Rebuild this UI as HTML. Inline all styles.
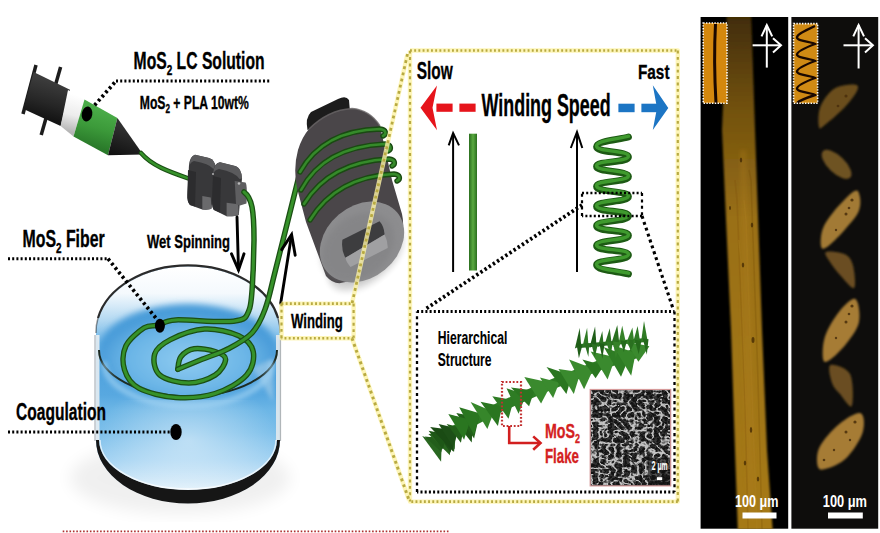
<!DOCTYPE html>
<html><head><meta charset="utf-8">
<style>
html,body{margin:0;padding:0;background:#fff;width:880px;height:533px;overflow:hidden}
svg{position:absolute;left:0;top:0;display:block}
text{font-family:"Liberation Sans",sans-serif;font-weight:bold}
</style></head>
<body>
<svg width="880" height="533" viewBox="0 0 880 533">
<defs>
  <linearGradient id="water" x1="0" y1="0" x2="0" y2="1">
    <stop offset="0" stop-color="#4fa3dc"/>
    <stop offset="0.5" stop-color="#6db8e6"/>
    <stop offset="0.85" stop-color="#bfe0f5"/>
    <stop offset="1" stop-color="#e4f2fb"/>
  </linearGradient>
  <radialGradient id="surf" cx="0.5" cy="0.75" r="0.7">
    <stop offset="0" stop-color="#a6d5f3"/>
    <stop offset="0.6" stop-color="#6cb7e7"/>
    <stop offset="1" stop-color="#4c9fd9"/>
  </radialGradient>
  <linearGradient id="inner" x1="0" y1="0" x2="0" y2="1">
    <stop offset="0" stop-color="#ffffff"/>
    <stop offset="1" stop-color="#d6ebf8"/>
  </linearGradient>
  <linearGradient id="greenbar" x1="0" y1="0" x2="1" y2="0">
    <stop offset="0" stop-color="#2a6e1e"/>
    <stop offset="0.5" stop-color="#5aaa40"/>
    <stop offset="1" stop-color="#2a6e1e"/>
  </linearGradient>
  <linearGradient id="synbody" x1="0" y1="0" x2="0" y2="1">
    <stop offset="0" stop-color="#3a3a3a"/>
    <stop offset="0.5" stop-color="#222"/>
    <stop offset="1" stop-color="#111"/>
  </linearGradient>
  <filter id="blur05"><feGaussianBlur stdDeviation="0.5"/></filter>
  <filter id="blur1"><feGaussianBlur stdDeviation="1"/></filter>
  <filter id="blur2"><feGaussianBlur stdDeviation="2"/></filter>
  <filter id="blur3"><feGaussianBlur stdDeviation="3"/></filter>
  <filter id="blur4"><feGaussianBlur stdDeviation="4"/></filter>
  <filter id="blur8"><feGaussianBlur stdDeviation="8"/></filter>
  <filter id="semf" x="0" y="0" width="1" height="1">
    <feTurbulence type="turbulence" baseFrequency="0.13 0.16" numOctaves="2" seed="3" result="t"/>
    <feColorMatrix in="t" type="matrix" values="0 0 0 0 1  0 0 0 0 1  0 0 0 0 1  -5.5 0 0 0 1.45" result="a"/>
    <feComposite in="a" in2="SourceGraphic" operator="in"/>
  </filter>
  <filter id="semf2" x="0" y="0" width="1" height="1">
    <feTurbulence type="fractalNoise" baseFrequency="0.4" numOctaves="2" seed="8" result="t"/>
    <feColorMatrix in="t" type="matrix" values="0 0 0 0 1  0 0 0 0 1  0 0 0 0 1  4 0 0 0 -1.6" result="a"/>
    <feComposite in="a" in2="SourceGraphic" operator="in"/>
  </filter>
</defs>
<g id="beaker">
<linearGradient id="wfront" x1="0" y1="350" x2="0" y2="500" gradientUnits="userSpaceOnUse">
  <stop offset="0" stop-color="#4a9edb"/>
  <stop offset="0.3" stop-color="#58a8e0"/>
  <stop offset="0.4" stop-color="#6cb6e6"/>
  <stop offset="0.55" stop-color="#7cbfea"/>
  <stop offset="0.73" stop-color="#a2d2f2"/>
  <stop offset="0.88" stop-color="#d0e8f8"/>
  <stop offset="0.97" stop-color="#f0f8fd"/>
</linearGradient>
<linearGradient id="wback" x1="0" y1="267" x2="0" y2="399" gradientUnits="userSpaceOnUse">
  <stop offset="0" stop-color="#ffffff"/>
  <stop offset="0.2" stop-color="#f4f9fd"/>
  <stop offset="0.4" stop-color="#b4d9f2"/>
  <stop offset="0.58" stop-color="#6cb5e6"/>
  <stop offset="0.8" stop-color="#58a9e0"/>
  <stop offset="1" stop-color="#76bfea"/>
</linearGradient>
<ellipse cx="180" cy="478" rx="110" ry="36" fill="#000" opacity="0.06" filter="url(#blur8)"/>
<path d="M96,333 L96,440 A92,63.5 0 0 0 280,440 L280,333 A92,66.5 0 0 0 96,333 Z" fill="url(#wfront)"/>
<path d="M96,333 A92,66.5 0 0 1 280,333 L277,350 A89,46 0 0 1 99,350 Z" fill="url(#wback)"/>

<radialGradient id="wsurf2" cx="188" cy="360" r="89" gradientUnits="userSpaceOnUse" gradientTransform="translate(188,360) scale(1,0.52) translate(-188,-360)">
  <stop offset="0" stop-color="#8fcbf0"/>
  <stop offset="0.7" stop-color="#69b4e6"/>
  <stop offset="1" stop-color="#4a9cd9"/>
</radialGradient>
<clipPath id="inrim"><path d="M96,333 A92,66.5 0 0 1 280,333 L277,350 A89,46 0 0 1 99,350 Z"/></clipPath>
<ellipse cx="188" cy="352" rx="90" ry="48" fill="url(#wsurf2)" filter="url(#blur3)" clip-path="url(#inrim)"/>
<radialGradient id="haze" cx="188" cy="440" r="90" gradientUnits="userSpaceOnUse" gradientTransform="translate(188,440) scale(1,0.7) translate(-188,-440)">
  <stop offset="0" stop-color="#ffffff" stop-opacity="0.45"/>
  <stop offset="0.6" stop-color="#ffffff" stop-opacity="0.2"/>
  <stop offset="1" stop-color="#ffffff" stop-opacity="0"/>
</radialGradient>
<path d="M96,400 L96,440 A92,63.5 0 0 0 280,440 L280,400 Z" fill="url(#haze)"/>
<path d="M253,368 L273,358 L273,402 Z" fill="#cfe3ef" opacity="0.4" filter="url(#blur2)"/>
<path d="M97.5,335 L97.5,441" stroke="#e8eef2" stroke-width="4" opacity="0.9"/>
<path d="M95,335 L95,441" stroke="#9aa4ab" stroke-width="1.2" opacity="0.8"/>
<path d="M278,335 L278,441" stroke="#e3eaee" stroke-width="4" opacity="0.9"/>
<path d="M280.5,335 L280.5,441" stroke="#7c868c" stroke-width="1.2" opacity="0.6"/>
<path d="M99,350 A89,46 0 0 0 277,350" fill="none" stroke="#1c2a22" stroke-width="2"/>
<path d="M104,362 A84,44 0 0 0 272,362" fill="none" stroke="#a6d6f4" stroke-width="6" opacity="0.6" filter="url(#blur2)"/>
<path d="M96,440 A92,63.5 0 0 0 280,440 L277,440 A89,50 0 0 1 99,440 Z" fill="#161616"/>
<path d="M100,440 A88,49 0 0 0 276,440" fill="none" stroke="#ffffff" stroke-width="1.5" opacity="0.7"/>
<path d="M98,318 A92,66.5 0 0 1 278,318" fill="none" stroke="#2b2b2b" stroke-width="2.2"/>
<path d="M96,333 A92,66.5 0 0 1 98,318" fill="none" stroke="#2b2b2b" stroke-width="1.5" opacity="0.5"/>
<path d="M278,318 A92,66.5 0 0 1 280,333" fill="none" stroke="#2b2b2b" stroke-width="1.5" opacity="0.6"/>
</g>
<g id="syringe">
<linearGradient id="sgb" x1="52" y1="81" x2="42" y2="117.5" gradientUnits="userSpaceOnUse"><stop offset="0" stop-color="#3c3c3c"/><stop offset="0.6" stop-color="#262626"/><stop offset="1" stop-color="#141414"/></linearGradient>
<linearGradient id="sgw" x1="76" y1="95" x2="67" y2="131" gradientUnits="userSpaceOnUse"><stop offset="0" stop-color="#ffffff"/><stop offset="0.55" stop-color="#ececec"/><stop offset="1" stop-color="#b5b5b5"/></linearGradient>
<linearGradient id="sgg" x1="101" y1="109" x2="91" y2="146" gradientUnits="userSpaceOnUse"><stop offset="0" stop-color="#4aac48"/><stop offset="0.5" stop-color="#3c9a3a"/><stop offset="1" stop-color="#2a7a2a"/></linearGradient>
<linearGradient id="sgc" x1="125" y1="128" x2="115" y2="156" gradientUnits="userSpaceOnUse"><stop offset="0" stop-color="#303030"/><stop offset="1" stop-color="#111"/></linearGradient>
<line x1="36" y1="65" x2="23" y2="114" stroke="#1c1c1c" stroke-width="3.5"/>
<line x1="60.6" y1="67" x2="41.2" y2="135" stroke="#1c1c1c" stroke-width="3.5"/>
<polygon points="33.6,72 70,89.7 60.6,126 23.5,109" fill="url(#sgb)"/>
<polygon points="68,90 84.5,99.4 73.5,136.6 60.6,126" fill="url(#sgw)"/>
<polygon points="84.5,99.4 117.4,118 108,155.2 73.5,136.6" fill="url(#sgg)"/>
<polygon points="117.4,118 108,155.2 143,154.5" fill="url(#sgc)"/>
<ellipse cx="87" cy="114" rx="5.3" ry="7.5" fill="#000" transform="rotate(10 87 114)"/>
</g>
<path d="M141,153 C152,166 170,172 190,179" stroke="#1b4f14" stroke-width="4.5" fill="none" stroke-linecap="round" stroke-linejoin="round"/>
<path d="M141,153 C152,166 170,172 190,179" stroke="#36922a" stroke-width="2.5" fill="none" stroke-linecap="round" stroke-linejoin="round"/>
<g id="rollers">
  <path d="M195,154.7 L209,158 Q215,160 215.8,167.6 L211.5,208.5 Q210,210 202.3,209.5 L190,205 Q187,202 187.4,194.6 L189,165 Q190,156 195,154.7 Z" fill="#38383a"/>
  <path d="M195,154.7 L209,158 Q215,160 215.8,167.6 L213.5,169 Q209,163.5 194,161 Q190.5,162 189.3,166 Q190,156 195,154.7 Z" fill="#5a5a5c"/>
  <path d="M188,170 L196,172 L195,206.5 L190,205 Q187,202 187.4,194.6 Z" fill="#2c2c2e"/>
  <path d="M202.3,196 L210.8,197.5 L211.5,208.5 Q210,210 202.3,209.5 Z" fill="#6a6a6c"/>
  <path d="M220,162.2 L236,166.2 Q241.5,168.5 242,178.4 L238.8,214.9 Q235,216.5 226.6,216.2 L214,210 Q212,208 212,200 L212.5,174 Q214,163 220,162.2 Z" fill="#38383a"/>
  <path d="M220,162.2 L236,166.2 Q241.5,168.5 242,178.4 L239.5,179 Q235,172 219,169 Q214.5,170 213,174 Q214,163 220,162.2 Z" fill="#5a5a5c"/>
  <path d="M213,176 L221,178 L220,212.5 L214,210 Q212,208 212,200 Z" fill="#2c2c2e"/>
  <path d="M226.6,202.7 L238.2,204.3 L238.8,214.9 Q235,216.5 226.6,216.2 Z" fill="#6a6a6c"/>
  <path d="M234.7,181 L245.5,182.4 Q247.5,185 246.5,203.5 L240,205.4 L236,204 Z" fill="#5e5e60"/>
  <circle cx="239" cy="183.5" r="1.3" fill="#bbb"/>
  <circle cx="213" cy="174" r="1.1" fill="#aaa"/>
</g>
<path d="M244,192 C252,198 254,210 254,240 L253.2,270.0 C252.5,276.6 252.5,300.9 249.3,309.4 C246.0,318.0 245.8,319.5 233.5,321.2 C221.2,323.0 188.2,319.3 175.7,319.9 C163.2,320.6 163.9,323.9 158.6,325.2 C153.4,326.5 149.6,324.3 144.2,327.8 C138.7,331.3 129.0,339.2 125.8,346.2 C122.5,353.2 122.3,362.8 124.5,369.8 C126.6,376.8 130.4,383.6 138.9,388.2 C147.4,392.8 163.0,396.6 175.7,397.4 C188.4,398.3 203.3,397.2 215.1,393.5 C226.9,389.8 240.3,382.1 246.6,375.1 C253.0,368.1 254.5,358.0 253.2,351.5 C251.9,344.9 246.8,339.4 238.7,335.7 C230.6,332.0 216.0,328.5 204.6,329.1 C193.2,329.8 178.8,335.5 170.4,339.6 C162.1,343.8 156.4,348.2 154.7,354.1 C152.9,360.0 154.2,370.3 159.9,375.1 C165.6,379.9 179.6,383.0 188.8,383.0 C198.0,383.0 209.0,379.0 215.1,375.1 C221.2,371.2 225.6,363.3 225.6,359.3 C225.6,355.4 220.4,353.2 215.1,351.5 C209.8,349.7 199.8,347.9 194.1,348.8 C188.4,349.7 183.7,353.3 180.9,356.7 C178.2,360.1 178.3,367.2 177.8,369.3" stroke="#1b4f14" stroke-width="5.5" fill="none" stroke-linecap="round" stroke-linejoin="round"/>
<path d="M244,192 C252,198 254,210 254,240 L253.2,270.0 C252.5,276.6 252.5,300.9 249.3,309.4 C246.0,318.0 245.8,319.5 233.5,321.2 C221.2,323.0 188.2,319.3 175.7,319.9 C163.2,320.6 163.9,323.9 158.6,325.2 C153.4,326.5 149.6,324.3 144.2,327.8 C138.7,331.3 129.0,339.2 125.8,346.2 C122.5,353.2 122.3,362.8 124.5,369.8 C126.6,376.8 130.4,383.6 138.9,388.2 C147.4,392.8 163.0,396.6 175.7,397.4 C188.4,398.3 203.3,397.2 215.1,393.5 C226.9,389.8 240.3,382.1 246.6,375.1 C253.0,368.1 254.5,358.0 253.2,351.5 C251.9,344.9 246.8,339.4 238.7,335.7 C230.6,332.0 216.0,328.5 204.6,329.1 C193.2,329.8 178.8,335.5 170.4,339.6 C162.1,343.8 156.4,348.2 154.7,354.1 C152.9,360.0 154.2,370.3 159.9,375.1 C165.6,379.9 179.6,383.0 188.8,383.0 C198.0,383.0 209.0,379.0 215.1,375.1 C221.2,371.2 225.6,363.3 225.6,359.3 C225.6,355.4 220.4,353.2 215.1,351.5 C209.8,349.7 199.8,347.9 194.1,348.8 C188.4,349.7 183.7,353.3 180.9,356.7 C178.2,360.1 178.3,367.2 177.8,369.3" stroke="#36922a" stroke-width="3.0" fill="none" stroke-linecap="round" stroke-linejoin="round"/>
<path d="M177.8,369.3 C181.8,367.7 193.6,362.7 202.0,359.3 C210.4,355.9 219.9,353.2 228.2,348.8 C236.6,344.4 245.8,339.6 251.9,333.1 C258.0,326.5 261.1,319.9 265.0,309.4 C269.0,298.9 269.7,292.9 275.5,270.0 C281.4,247.1 295.9,188.3 300.0,172.0" stroke="#1b4f14" stroke-width="5.5" fill="none" stroke-linecap="round" stroke-linejoin="round"/>
<path d="M177.8,369.3 C181.8,367.7 193.6,362.7 202.0,359.3 C210.4,355.9 219.9,353.2 228.2,348.8 C236.6,344.4 245.8,339.6 251.9,333.1 C258.0,326.5 261.1,319.9 265.0,309.4 C269.0,298.9 269.7,292.9 275.5,270.0 C281.4,247.1 295.9,188.3 300.0,172.0" stroke="#36922a" stroke-width="3.0" fill="none" stroke-linecap="round" stroke-linejoin="round"/>
<g id="spool">
  <ellipse cx="366" cy="258" rx="44" ry="24" fill="#000" opacity="0.16" filter="url(#blur3)" transform="rotate(-38 366 258)"/>
  <path d="M307.5,130 Q305,118 311,112 L338,99 Q346,95 349,100 L350,112 Z" fill="#1c1c1c"/>
  <path d="M309,129 Q328,110 352,108.5 Q370,110 380,126 L392,180 L402,214 Q406,232 396,246 L350,280 Q336,288 326,276 L306,222 L297,188 Q293,168 298,150 Q302,137 309,129 Z" fill="#4a4649"/>
  <path d="M309,129 Q328,110 352,108.5 Q370,110 380,126" fill="none" stroke="#6a6668" stroke-width="1.5" opacity="0.8"/>
  <ellipse cx="362" cy="242" rx="46" ry="36" fill="#8d8d8f" transform="rotate(-40 362 242)"/>
  <ellipse cx="358" cy="247" rx="40" ry="30" fill="#7e7e80" opacity="0.5" transform="rotate(-40 358 247)" filter="url(#blur3)"/>
  <path d="M342.4,239.8 L379.5,221.3 Q384,226 384.6,234.6 L345.5,257.8 Q341,250 342.4,239.8 Z" fill="#3d3d3f"/>
  <path d="M345.5,257.8 L384.6,234.6 Q388,242 387.7,248 L350.6,267 Q346,262 345.5,257.8 Z" fill="#a0a0a2"/>
</g>
<path d="M300,172 C315,145 340,130 380,129 C386,129.5 387,134 383,136" stroke="#1a4a12" stroke-width="5.4" fill="none" stroke-linecap="round" stroke-linejoin="round"/>
<path d="M300,172 C315,145 340,130 380,129 C386,129.5 387,134 383,136" stroke="#358a2a" stroke-width="2.6" fill="none" stroke-linecap="round" stroke-linejoin="round"/>
<path d="M301,190 C316,162 342,146 385,144 C391,144.5 392,149 388,151" stroke="#1a4a12" stroke-width="5.4" fill="none" stroke-linecap="round" stroke-linejoin="round"/>
<path d="M301,190 C316,162 342,146 385,144 C391,144.5 392,149 388,151" stroke="#358a2a" stroke-width="2.6" fill="none" stroke-linecap="round" stroke-linejoin="round"/>
<path d="M304,204 C320,178 346,161 389,159 C395,159.5 396,164 392,166" stroke="#1a4a12" stroke-width="5.4" fill="none" stroke-linecap="round" stroke-linejoin="round"/>
<path d="M304,204 C320,178 346,161 389,159 C395,159.5 396,164 392,166" stroke="#358a2a" stroke-width="2.6" fill="none" stroke-linecap="round" stroke-linejoin="round"/>
<path d="M310,220 C326,194 352,176 394,174 C400,174.5 401,179 397,181" stroke="#1a4a12" stroke-width="5.4" fill="none" stroke-linecap="round" stroke-linejoin="round"/>
<path d="M310,220 C326,194 352,176 394,174 C400,174.5 401,179 397,181" stroke="#358a2a" stroke-width="2.6" fill="none" stroke-linecap="round" stroke-linejoin="round"/>
<g stroke="#000" stroke-width="2.9" fill="none" stroke-linecap="round">
  <path d="M237,217 L238.5,270"/><path d="M231.5,253.8 L238.5,270 L244,253.8"/>
  <path d="M280.6,303.7 L291.5,235.5"/><path d="M281.7,249.6 L291.6,234.5 L295.2,255.2"/>
</g>
<path d="M281.5,303.6 L353.6,303.6 L353.6,338.2 L281.5,338.2 L281.5,303.6" stroke="#fcf2a6" stroke-width="4.4" fill="none" stroke-linejoin="round" opacity="0.8"/>
<path d="M281.5,303.6 L353.6,303.6" stroke="#b8aa42" stroke-width="2.60" stroke-dasharray="1.89 2.31" fill="none" />
<path d="M353.6,303.6 L353.6,338.2" stroke="#b8aa42" stroke-width="2.20" stroke-dasharray="2.88 3.52" fill="none" />
<path d="M353.6,338.2 L281.5,338.2" stroke="#b8aa42" stroke-width="2.60" stroke-dasharray="1.89 2.31" fill="none" />
<path d="M281.5,338.2 L281.5,303.6" stroke="#b8aa42" stroke-width="2.20" stroke-dasharray="2.88 3.52" fill="none" />
<path d="M410.0,50.5 L677.8,50.5 L677.8,501.6 L410.0,501.6 L410.0,50.5" stroke="#fcf2a6" stroke-width="4.4" fill="none" stroke-linejoin="round" opacity="0.8"/>
<path d="M410.0,50.5 L677.8,50.5" stroke="#b8aa42" stroke-width="2.60" stroke-dasharray="1.89 2.31" fill="none" />
<path d="M677.8,50.5 L677.8,501.6" stroke="#b8aa42" stroke-width="2.20" stroke-dasharray="2.88 3.52" fill="none" />
<path d="M677.8,501.6 L410.0,501.6" stroke="#b8aa42" stroke-width="2.60" stroke-dasharray="1.89 2.31" fill="none" />
<path d="M410.0,501.6 L410.0,50.5" stroke="#b8aa42" stroke-width="2.20" stroke-dasharray="2.88 3.52" fill="none" />
<path d="M407.5,54.0 L352.0,303.6" stroke="#fcf2a6" stroke-width="4.4" fill="none" stroke-linejoin="round" opacity="0.8"/>
<path d="M407.5,54.0 L352.0,303.6" stroke="#b8aa42" stroke-width="2.71" stroke-dasharray="2.84 3.47" fill="none" />
<path d="M352.0,338.2 L409.0,500.0" stroke="#fcf2a6" stroke-width="4.4" fill="none" stroke-linejoin="round" opacity="0.8"/>
<path d="M352.0,338.2 L409.0,500.0" stroke="#b8aa42" stroke-width="2.94" stroke-dasharray="2.79 3.41" fill="none" />
<g id="speed">
<text x="416.8" y="79.2" font-size="24" textLength="36" lengthAdjust="spacingAndGlyphs" fill="#000" stroke="#000" stroke-width="0.35" >Slow</text>
<text x="638" y="79" font-size="21" textLength="31.5" lengthAdjust="spacingAndGlyphs" fill="#000" stroke="#000" stroke-width="0.35" >Fast</text>
<text x="481.6" y="116" font-size="31" textLength="129" lengthAdjust="spacingAndGlyphs" fill="#000" stroke="#000" stroke-width="0.35" >Winding Speed</text>
<path d="M420.5,107.8 L437,85.5 L432.5,107.8 L437,130.2 Z" fill="#e6141b"/>
  <rect x="436.4" y="103.6" width="16.2" height="8.2" fill="#e6141b"/>
  <rect x="459.4" y="103.6" width="16.2" height="8.2" fill="#e6141b"/>
  <rect x="618.4" y="103.7" width="16.2" height="8.5" fill="#1c75c4"/>
  <rect x="641.4" y="103.7" width="16" height="8.5" fill="#1c75c4"/>
  <path d="M668.3,108 L652.8,85.3 L657,108 L652.8,130 Z" fill="#1c75c4"/>
  <g stroke="#000" stroke-width="2" fill="none">
    <path d="M453.1,133 L453.1,272"/><path d="M448.7,145.4 L453.1,133 L459,145.4"/>
    <path d="M577,132 L577,272"/><path d="M570.8,148 L577,132 L582.3,148"/>
  </g>
  <rect x="469" y="133.7" width="8" height="136.8" fill="url(#greenbar)"/>
<path d="M628.5,137.0 C618.9,139.9 596.5,140.8 596.5,146.8 C596.5,152.8 628.5,151.1 628.5,157.0 C628.5,162.9 596.5,160.7 596.5,166.5 C596.5,172.3 628.5,170.5 628.5,176.5 C628.5,182.5 596.5,180.5 596.5,186.5 C596.5,192.5 628.5,190.5 628.5,196.5 C628.5,202.5 596.5,200.7 596.5,206.5 C596.5,212.3 628.5,210.2 628.5,216.0 C628.5,221.8 596.5,220.2 596.5,226.0 C596.5,231.8 628.5,229.6 628.5,235.5 C628.5,241.4 596.5,240.0 596.5,245.8 C596.5,251.7 628.5,249.2 628.5,255.0 C628.5,260.8 596.5,259.3 596.5,265.0 C596.5,270.7 618.9,271.3 628.5,274.0" stroke="#1d5a14" stroke-width="6.8" fill="none" stroke-linecap="round" stroke-linejoin="round"/>
<path d="M628.5,137.0 C618.9,139.9 596.5,140.8 596.5,146.8 C596.5,152.8 628.5,151.1 628.5,157.0 C628.5,162.9 596.5,160.7 596.5,166.5 C596.5,172.3 628.5,170.5 628.5,176.5 C628.5,182.5 596.5,180.5 596.5,186.5 C596.5,192.5 628.5,190.5 628.5,196.5 C628.5,202.5 596.5,200.7 596.5,206.5 C596.5,212.3 628.5,210.2 628.5,216.0 C628.5,221.8 596.5,220.2 596.5,226.0 C596.5,231.8 628.5,229.6 628.5,235.5 C628.5,241.4 596.5,240.0 596.5,245.8 C596.5,251.7 628.5,249.2 628.5,255.0 C628.5,260.8 596.5,259.3 596.5,265.0 C596.5,270.7 618.9,271.3 628.5,274.0" stroke="#3f9a2e" stroke-width="3.4" fill="none" stroke-linecap="round" stroke-linejoin="round" transform="translate(0,-0.8)"/>
</g>
<g id="hier">
<path d="M417.0,311.5 L674.5,311.5" stroke="#000" stroke-width="3.00" stroke-dasharray="2.02 2.18" fill="none" />
<path d="M674.5,311.5 L674.5,492.0" stroke="#000" stroke-width="2.30" stroke-dasharray="3.07 3.33" fill="none" />
<path d="M674.5,492.0 L417.0,492.0" stroke="#000" stroke-width="3.00" stroke-dasharray="2.02 2.18" fill="none" />
<path d="M417.0,492.0 L417.0,311.5" stroke="#000" stroke-width="2.30" stroke-dasharray="3.07 3.33" fill="none" />
<path d="M582.0,205.0 L425.6,309.0" stroke="#000" stroke-width="3.77" stroke-dasharray="2.39 2.59" fill="none" />
<path d="M642.0,216.0 L673.5,310.0" stroke="#000" stroke-width="3.13" stroke-dasharray="2.98 3.23" fill="none" />
<path d="M582.0,193.0 L642.0,193.0" stroke="#000" stroke-width="2.60" stroke-dasharray="2.02 2.18" fill="none" />
<path d="M642.0,193.0 L642.0,216.0" stroke="#000" stroke-width="2.20" stroke-dasharray="3.07 3.33" fill="none" />
<path d="M642.0,216.0 L582.0,216.0" stroke="#000" stroke-width="2.60" stroke-dasharray="2.02 2.18" fill="none" />
<path d="M582.0,216.0 L582.0,193.0" stroke="#000" stroke-width="2.20" stroke-dasharray="3.07 3.33" fill="none" />
<text x="437.8" y="344.4" font-size="17.7" textLength="69.5" lengthAdjust="spacingAndGlyphs" fill="#000" stroke="#000" stroke-width="0.1" >Hierarchical</text>
<text x="437.8" y="366.3" font-size="17.7" textLength="53.7" lengthAdjust="spacingAndGlyphs" fill="#000" stroke="#000" stroke-width="0.1" >Structure</text>
<g><path d="M432,442 L500,407 L545,387 L600,365 L640,352" stroke="#2e7c24" stroke-width="10" fill="none" stroke-linecap="butt"/>
<polygon points="422.2,436.1 441.7,442.9 441.1,461.8" fill="#296720"/>
<polygon points="424.8,436.4 444.4,438.6 441.3,452.0" fill="#235e1b"/>
<polygon points="428.4,434.0 451.0,432.5 449.9,455.3" fill="#28651f"/>
<polygon points="435.9,430.9 455.4,433.2 450.5,452.7" fill="#1d5017"/>
<polygon points="439.4,429.3 455.2,429.4 454.6,449.3" fill="#184512"/>
<polygon points="436.8,432.6 456.0,433.7 454.0,451.9" fill="#296220"/>
<polygon points="428.6,430.8 446.4,434.2 443.0,449.6" fill="#1e5717"/>
<polygon points="430.1,427.0 453.0,430.1 453.2,451.5" fill="#1a4b14"/>
<polygon points="438.6,424.0 459.0,428.7 453.1,446.9" fill="#1d4f17"/>
<polygon points="446.6,423.9 463.7,428.3 460.9,442.7" fill="#225f19"/>
<polygon points="449.9,414.9 473.2,420.6 471.7,442.6" fill="#1f5817"/>
<polygon points="456.3,412.9 478.8,417.4 474.1,438.5" fill="#22611a"/>
<polygon points="448.3,414.0 470.4,419.7 464.1,439.8" fill="#2a7620"/>
<polygon points="459.2,407.3 480.4,413.5 473.9,434.8" fill="#2a7620"/>
<polygon points="470.6,401.9 493.8,412.0 487.4,429.1" fill="#36862a"/>
<polygon points="480.5,401.8 502.0,406.2 497.9,426.0" fill="#2a7620"/>
<polygon points="492.3,396.3 513.7,400.1 508.5,418.8" fill="#2e7c24"/>
<polygon points="506.5,388.3 526.0,394.8 518.6,413.8" fill="#2e7c24"/>
<polygon points="510.9,387.6 534.3,390.5 529.1,406.3" fill="#2a7620"/>
<polygon points="524.3,377.1 551.9,383.0 541.1,403.4" fill="#3a8a2e"/>
<polygon points="539.9,377.6 559.3,382.4 553.1,397.9" fill="#3a8a2e"/>
<polygon points="546.5,367.0 571.8,375.6 566.4,394.1" fill="#2a7620"/>
<polygon points="558.5,369.0 580.5,372.3 573.8,393.9" fill="#3a8a2e"/>
<polygon points="569.1,359.6 593.5,368.8 584.1,389.2" fill="#3a8a2e"/>
<polygon points="582.4,359.6 603.8,365.4 595.6,378.3" fill="#2a7620"/>
<polygon points="590.7,351.5 615.4,357.2 607.6,379.5" fill="#3a8a2e"/>
<polygon points="603.9,347.2 629.5,356.6 621.0,376.8" fill="#2e7c24"/>
<polygon points="612.6,345.0 635.6,352.9 631.2,375.7" fill="#36862a"/>
<polygon points="626.0,341.6 649.4,346.2 638.4,361.8" fill="#3a8a2e"/>
<path d="M580,346 L646,340" stroke="#2a7020" stroke-width="4" fill="none"/>
<polygon points="574.9,348.4 579.7,327.9 581.2,345.4" fill="#1f5e18"/>
<polygon points="576.6,344.4 582.3,345.4 578.9,358.3" fill="#1f5e18"/>
<polygon points="582.5,346.4 587.1,327.8 588.3,343.4" fill="#2f7a24"/>
<polygon points="584.1,342.4 589.3,343.4 588.4,356.9" fill="#2a7020"/>
<polygon points="589.5,347.8 595.1,326.4 596.4,344.8" fill="#1f5e18"/>
<polygon points="591.4,343.8 597.7,344.8 594.8,357.2" fill="#2a7020"/>
<polygon points="597.7,347.1 602.3,330.9 603.5,344.1" fill="#2a7020"/>
<polygon points="599.3,343.1 604.6,344.1 602.3,358.5" fill="#1f5e18"/>
<polygon points="604.4,345.4 609.7,328.3 611.5,342.4" fill="#2a7020"/>
<polygon points="606.3,341.4 612.7,342.4 610.6,356.4" fill="#2f7a24"/>
<polygon points="610.7,345.6 617.3,325.0 619.2,342.6" fill="#2a7020"/>
<polygon points="613.0,341.6 620.7,342.6 615.7,358.3" fill="#358228"/>
<polygon points="618.4,344.2 622.2,325.8 625.6,341.2" fill="#358228"/>
<polygon points="620.3,340.2 626.9,341.2 623.8,352.1" fill="#256a1c"/>
<polygon points="626.1,343.6 632.4,327.4 634.0,340.6" fill="#358228"/>
<polygon points="628.2,339.6 635.4,340.6 630.4,351.1" fill="#2a7020"/>
<polygon points="632.7,343.7 637.6,326.1 640.0,340.7" fill="#2f7a24"/>
<polygon points="634.7,339.7 641.4,340.7 638.7,354.3" fill="#256a1c"/>
<polygon points="641.0,342.3 644.0,320.9 647.3,339.3" fill="#2f7a24"/>
<polygon points="642.7,338.3 648.5,339.3 646.8,354.8" fill="#256a1c"/></g>
<rect x="502" y="382" width="19" height="44" fill="none" stroke="#c23030" stroke-width="2.2" stroke-dasharray="1.8 1.8"/>
  <path d="M509.2,426 L509.2,443 L540,443" fill="none" stroke="#d21f1f" stroke-width="2.6"/>
  <path d="M533.2,436.4 L540.5,443 L533.2,449.7" fill="none" stroke="#d21f1f" stroke-width="2.6"/>
<text x="545" y="438.4" font-size="20.8" textLength="35" lengthAdjust="spacingAndGlyphs" fill="#d41f22" stroke="#d41f22" stroke-width="0.35" >MoS<tspan font-size="13" dy="4.1">2</tspan></text>
<text x="545" y="463.4" font-size="20" textLength="34" lengthAdjust="spacingAndGlyphs" fill="#d41f22" stroke="#d41f22" stroke-width="0.35" >Flake</text>
<rect x="590.2" y="389.5" width="80.5" height="96.4" fill="#121212" stroke="#d69a9a" stroke-width="1.2"/>
  <rect x="591" y="390.3" width="79" height="94.8" fill="#fff" filter="url(#semf2)" opacity="0.15"/>
  <rect x="591" y="390.3" width="79" height="94.8" fill="#fff" filter="url(#semf)" opacity="0.72"/>
  <rect x="648" y="458" width="22" height="26" fill="#111" opacity="0.65"/>
<text x="651.8" y="470.2" font-size="12" textLength="15.8" lengthAdjust="spacingAndGlyphs" fill="#fff" stroke="#fff" stroke-width="0.2" >2 μm</text>
<rect x="656.9" y="477.2" width="5.3" height="2.8" fill="#fff"/>
</g>
<!-- ============ MICROSCOPY PANELS ============ -->
<g id="micro">
  <clipPath id="cp1"><rect x="700.6" y="17" width="87.6" height="511.7"/></clipPath>
  <clipPath id="cp2"><rect x="791.4" y="17" width="86.8" height="511.7"/></clipPath>
  <linearGradient id="fib" x1="0" y1="0" x2="0" y2="1">
    <stop offset="0" stop-color="#3e2a06"/>
    <stop offset="0.18" stop-color="#70500e"/>
    <stop offset="0.4" stop-color="#9a7016"/>
    <stop offset="1" stop-color="#a67a18"/>
  </linearGradient>
  <linearGradient id="fibh" x1="0" y1="0" x2="1" y2="0">
    <stop offset="0" stop-color="#000" stop-opacity="0.35"/>
    <stop offset="0.3" stop-color="#000" stop-opacity="0"/>
    <stop offset="0.6" stop-color="#fff" stop-opacity="0.08"/>
    <stop offset="1" stop-color="#000" stop-opacity="0.3"/>
  </linearGradient>
  <rect x="700.6" y="17" width="87.6" height="511.7" fill="#000"/>
  <rect x="791.4" y="17" width="86.8" height="511.7" fill="#0e0d0c"/>
  <!-- fiber panel 1 -->
  <g clip-path="url(#cp1)">
    <path d="M727,10 L751,10 L755,130 L762,330 L767,450 L773,535 L738,535 L735,450 L731,330 L722,130 Z" fill="url(#fib)" filter="url(#blur1)"/>
    <path d="M740,150 L746,150 L752,330 L756,520 L748,520 L742,330 Z" fill="#b08020" opacity="0.3" filter="url(#blur2)"/>
    <g stroke-width="1.6" fill="none" opacity="0.22" filter="url(#blur05)">
      <path d="M735,180 L737,200 L745,400 L748,529" stroke="#7a4c08"/>
      <path d="M744,200 L746,220 L753,420 L757,529" stroke="#b08428"/>
      <path d="M749,170 L751,180 L758,380 L762,529" stroke="#6e4606"/>
      <path d="M739,240 L741,260 L749,480" stroke="#a87a20"/>
    </g>
    <g fill="#3a2404" opacity="0.7" filter="url(#blur05)">
      <ellipse cx="741" cy="160" rx="1.2" ry="2.5"/><ellipse cx="752" cy="225" rx="1.2" ry="2.5"/>
      <ellipse cx="743" cy="265" rx="1.2" ry="2.5"/><ellipse cx="753" cy="340" rx="1.5" ry="3"/>
      <ellipse cx="751" cy="430" rx="1.2" ry="3"/><ellipse cx="745" cy="463" rx="1.2" ry="2.5"/>
      <ellipse cx="758" cy="479" rx="1.2" ry="2.5"/><ellipse cx="730" cy="208" rx="1" ry="2"/>
    </g>
  </g>
  <!-- inset 1 -->
  <rect x="703.2" y="23" width="23.8" height="80.2" fill="#d4880e"/>
  <path d="M715.5,24 Q713.5,60 716,103" stroke="#1a0800" stroke-width="3" fill="none"/>
  <rect x="703.2" y="23" width="23.8" height="80.2" fill="none" stroke="#fff" stroke-width="1.6" stroke-dasharray="1.4 1.4"/>
  <!-- inset 2 -->
  <rect x="793.6" y="23.6" width="24" height="79.6" fill="#d08a14"/>
  <path d="M815,26 C802,32 797,35 797,37.5 C797,41 812,42 815,44 C802,49 797,52 797,54.5 C797,58 812,59 815,61 C802,66 797,69 797,71.5 C797,75 812,76 815,78 C802,83 797,86 797,88.5 C797,92 812,93 815,95 C803,99 799,101 797,103" stroke="#1a0800" stroke-width="2.4" fill="none"/>
  <rect x="793.6" y="23.6" width="24" height="79.6" fill="none" stroke="#fff" stroke-width="1.6" stroke-dasharray="1.4 1.4"/>
  <!-- polarizer arrows -->
  <g stroke="#fff" stroke-width="2" fill="none">
    <path d="M766.8,25 L766.8,67.6"/><path d="M761.5,36.4 L766.8,25 L772.2,36.4"/>
    <path d="M752.6,45.3 L781,45.3"/><path d="M773,38.2 L781,45.3 L773,52.4"/>
    <path d="M858.6,25 L858.6,68.5"/><path d="M853.3,36.4 L858.6,25 L864,36.4"/>
    <path d="M843.5,45.3 L872.9,45.3"/><path d="M865,38.2 L872.9,45.3 L865,52.4"/>
  </g>
  <!-- helical segments panel 2 -->
  <g clip-path="url(#cp2)">
  <g filter="url(#blur1)">
    <path d="M819.0,127.0 C818.2,124.0 817.8,113.3 820.3,107.0 C822.8,100.7 828.2,92.8 833.8,89.0 C839.4,85.2 850.1,84.3 854.0,84.5 C857.9,84.7 858.9,86.2 857.4,90.0 C855.9,93.8 850.4,101.2 845.0,107.0 C839.6,112.8 829.1,121.7 824.8,125.0 C820.5,128.3 819.8,130.0 819.0,127.0 Z" fill="#6a4e1e"/>
    <ellipse cx="836.6" cy="164.4" rx="19" ry="8.5" fill="#6e5222" transform="rotate(44 836.6 164.4)"/>
    <path d="M821.4,247.6 C820.3,245.0 820.4,235.5 822.5,229.5 C824.6,223.5 828.5,217.9 833.8,211.5 C839.0,205.1 849.7,193.9 854.0,191.3 C858.3,188.7 858.9,192.4 859.7,195.8 C860.5,199.2 861.1,205.9 858.6,211.5 C856.1,217.1 849.9,223.9 845.0,229.5 C840.1,235.1 833.2,242.3 829.3,245.3 C825.4,248.3 822.5,250.2 821.4,247.6 Z" fill="#a27a34"/>
    <path d="M826.0,252.0 C828.5,250.7 840.5,252.0 845.0,254.3 C849.5,256.6 851.5,260.0 853.0,265.6 C854.5,271.2 856.2,286.4 854.0,288.0 C851.8,289.6 844.0,279.3 840.0,275.0 C836.0,270.7 832.3,265.8 830.0,262.0 C827.7,258.2 823.5,253.3 826.0,252.0 Z" fill="#6a4e20"/>
    <path d="M823.2,359.6 C822.3,355.7 822.3,344.4 825.0,336.4 C827.7,328.4 834.2,317.6 839.3,311.4 C844.4,305.2 852.1,297.2 855.4,299.0 C858.7,300.8 860.5,314.6 859.0,322.0 C857.5,329.4 851.2,337.3 846.4,343.6 C841.6,349.9 834.3,356.9 830.4,359.6 C826.5,362.3 824.1,363.5 823.2,359.6 Z" fill="#a67c36"/>
    <path d="M830.4,365.0 C833.4,363.5 846.4,367.2 850.0,374.0 C853.6,380.8 853.5,402.7 851.8,406.0 C850.1,409.3 843.3,397.9 840.0,394.0 C836.7,390.1 833.6,387.7 832.0,382.9 C830.4,378.1 827.4,366.5 830.4,365.0 Z" fill="#6a4e20"/>
    <path d="M817.9,466.8 C816.7,463.2 816.0,454.1 819.6,447.0 C823.2,439.9 832.4,429.6 839.3,424.0 C846.1,418.4 856.8,411.7 860.7,413.2 C864.6,414.7 864.9,425.6 862.5,433.0 C860.1,440.4 852.4,452.0 846.4,457.9 C840.4,463.8 831.5,467.1 826.8,468.6 C822.0,470.1 819.1,470.4 817.9,466.8 Z" fill="#a67c36"/>
  </g>
  <g fill="#4a2e0a" opacity="0.85" filter="url(#blur05)">
    <circle cx="846" cy="96" r="1.5"/><circle cx="838" cy="106" r="1.3"/>
    <circle cx="852" cy="200" r="1.6"/><circle cx="846" cy="214" r="1.5"/><circle cx="836" cy="230" r="1.2"/><circle cx="849" cy="208" r="1.3"/>
    <circle cx="852" cy="306" r="1.6"/><circle cx="846" cy="322" r="1.5"/><circle cx="836" cy="338" r="1.2"/><circle cx="849" cy="314" r="1.3"/>
    <circle cx="855" cy="422" r="1.6"/><circle cx="846" cy="432" r="1.5"/><circle cx="834" cy="450" r="1.2"/><circle cx="824" cy="460" r="1.3"/><circle cx="850" cy="440" r="1.2"/>
  </g>
  </g>
  <!-- scale bars -->
  <text x="735" y="506.7" font-size="17.2" fill="#fff" textLength="43.5" lengthAdjust="spacingAndGlyphs">100 μm</text>
  <rect x="742.5" y="512.5" width="34" height="6" fill="#fff"/>
  <text x="822.8" y="506.7" font-size="17.2" fill="#fff" textLength="44.2" lengthAdjust="spacingAndGlyphs">100 μm</text>
  <rect x="828" y="512.5" width="34.8" height="6" fill="#fff"/>
</g>


<path d="M62.7,531.4 L449.5,531.4" stroke="#b03030" stroke-width="1.6" stroke-dasharray="1.6 1.8"/>
<text x="133.6" y="68.9" font-size="24.3" textLength="131" lengthAdjust="spacingAndGlyphs" fill="#000" stroke="#000" stroke-width="0.35" >MoS<tspan font-size="15.5" dy="5.9">2</tspan><tspan dy="-5.9"> LC Solution</tspan></text>
<text x="139.8" y="108.7" font-size="17.9" textLength="109" lengthAdjust="spacingAndGlyphs" fill="#000" stroke="#000" stroke-width="0.35" >MoS<tspan font-size="12" dy="4">2</tspan><tspan dy="-4"> + PLA 10wt%</tspan></text>
<text x="22.5" y="247.2" font-size="24" textLength="82.2" lengthAdjust="spacingAndGlyphs" fill="#000" stroke="#000" stroke-width="0.35" >MoS<tspan font-size="15" dy="5.5">2</tspan><tspan dy="-5.5"> Fiber</tspan></text>
<text x="147" y="248.2" font-size="18.5" textLength="83" lengthAdjust="spacingAndGlyphs" fill="#000" stroke="#000" stroke-width="0.35" >Wet Spinning</text>
<text x="16" y="419.6" font-size="23.6" textLength="90" lengthAdjust="spacingAndGlyphs" fill="#000" stroke="#000" stroke-width="0.35" >Coagulation</text>
<text x="291" y="328.2" font-size="21" textLength="51.7" lengthAdjust="spacingAndGlyphs" fill="#000" stroke="#000" stroke-width="0.35" >Winding</text>
<path d="M94.6,105.3 L116.0,81.0" stroke="#000" stroke-width="3.71" stroke-dasharray="2.66 2.88" fill="none" />
<path d="M116.0,81.0 L271.0,81.0" stroke="#000" stroke-width="3.00" stroke-dasharray="2.02 2.18" fill="none" />
<path d="M8.0,258.7 L108.0,258.7" stroke="#000" stroke-width="3.00" stroke-dasharray="2.02 2.18" fill="none" />
<path d="M108.0,258.7 L157.6,320.2" stroke="#000" stroke-width="3.67" stroke-dasharray="2.71 2.93" fill="none" />
<path d="M8.0,432.0 L172.0,432.0" stroke="#000" stroke-width="3.00" stroke-dasharray="2.02 2.18" fill="none" />
<ellipse cx="159.9" cy="325.8" rx="5" ry="7" fill="#000"/>
<ellipse cx="176" cy="432" rx="5.7" ry="8" fill="#000"/>
</svg>
</body></html>
